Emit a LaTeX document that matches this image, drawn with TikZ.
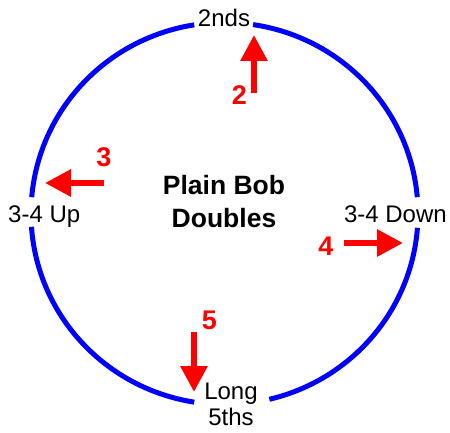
\documentclass[tikz,border=0pt]{standalone}
\usepackage{fontspec}
\setmainfont{Liberation Sans}
\usetikzlibrary{arrows.meta}
\definecolor{ringblue}{RGB}{0,0,255}
\definecolor{arrred}{RGB}{255,0,0}
\tikzset{
  ring/.style={draw=ringblue,line width=5pt,line cap=butt},
  lbl/.style={inner sep=0pt,text=black,font=\fontsize{24}{26}\selectfont},
  title/.style={inner sep=0pt,text=black,align=center,font=\fontsize{26.5}{33}\selectfont\bfseries},
  num/.style={inner sep=0pt,text=arrred,font=\fontsize{27}{30}\selectfont\bfseries},
  redarrow/.style={draw=arrred,line width=6pt,-{Triangle[length=26pt,width=26pt]}}
}
\begin{document}
\begin{tikzpicture}[x=1pt,y=1pt]
\useasboundingbox (0,0) rectangle (450,432);
\coordinate (c) at (224.5,218.5);
% ring arcs
\draw[ring] ([shift={(4.9:193.5pt and 191pt)}]c) arc[start angle=4.9,end angle=81.5,x radius=193.5pt,y radius=191pt];
\draw[ring] ([shift={(99:193.5pt and 191pt)}]c) arc[start angle=99,end angle=175.1,x radius=193.5pt,y radius=191pt];
\draw[ring] ([shift={(184:193.5pt and 191pt)}]c) arc[start angle=184,end angle=261,x radius=193.5pt,y radius=191pt];
\draw[ring] ([shift={(283.4:193.5pt and 191pt)}]c) arc[start angle=283.4,end angle=355.7,x radius=193.5pt,y radius=191pt];
% labels
\node[lbl,anchor=base] (seconds) at (224,405) {2nds};
\node[lbl,anchor=base west] (up) at (8,210) {3-4 Up};
\node[lbl,anchor=base east] (down) at (447,210) {3-4 Down};
\node[lbl,align=center,anchor=north] (fifths) at (231,49) {Long\\5ths};
\node[title,anchor=north] (method) at (224,257) {Plain Bob\\Doubles};
% numbers
\node[num] (n2) at (239.5,336.5) {2};
\node[num] (n3) at (104,275) {3};
\node[num] (n4) at (326,186) {4};
\node[num] (n5) at (209.5,112) {5};
% arrows
\coordinate (a2s) at (254,339); \coordinate (a2e) at (254,397);
\coordinate (a3s) at (104,249); \coordinate (a3e) at (45,249);
\coordinate (a4s) at (344,189); \coordinate (a4e) at (403,189);
\coordinate (a5s) at (194,100); \coordinate (a5e) at (194,40);
\draw[redarrow] (a2s) -- (a2e);
\draw[redarrow] (a3s) -- (a3e);
\draw[redarrow] (a4s) -- (a4e);
\draw[redarrow] (a5s) -- (a5e);
\end{tikzpicture}
\end{document}
